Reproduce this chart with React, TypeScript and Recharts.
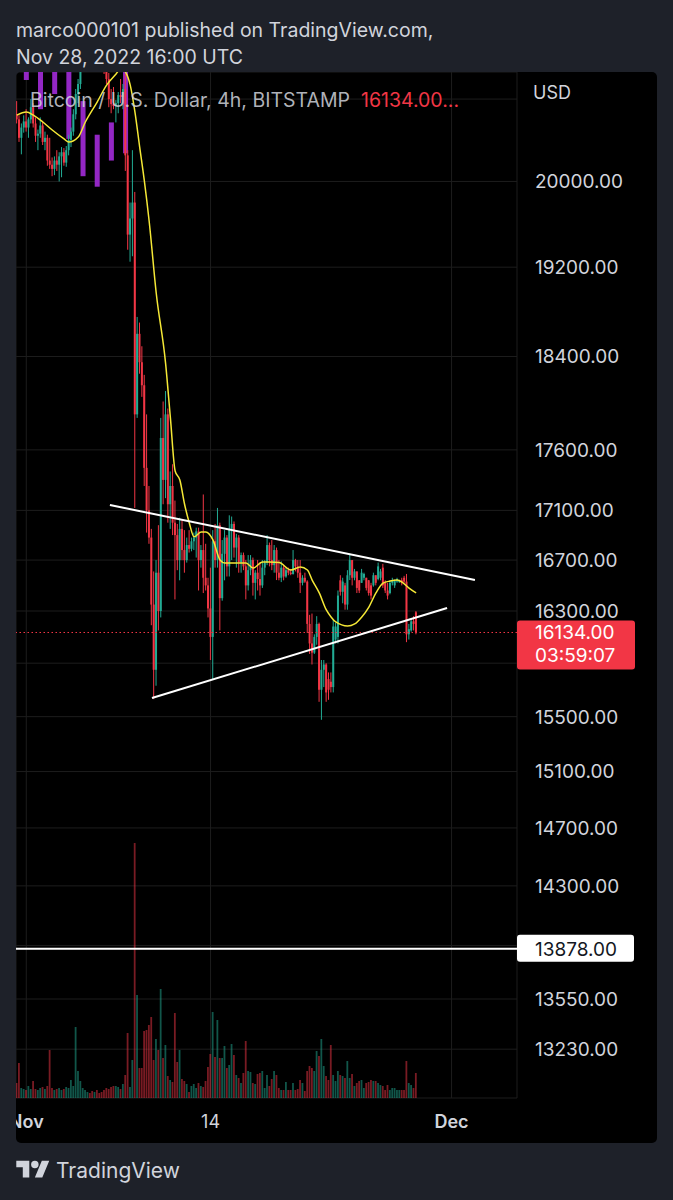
import React from 'react';
import {
  ComposedChart,
  Bar,
  Line,
  XAxis,
  YAxis,
  CartesianGrid,
  ReferenceLine,
  Cell
} from 'recharts';

// 4h candles, BTC/USD Bitstamp: [open, high, low, close]
const candles: number[][] = [
  [20650, 20780, 20560, 20600], [20600, 20640, 20380, 20420], [20420, 20560, 20260, 20520], [20520, 20640, 20470, 20580],
  [20580, 20700, 20480, 20520], [20520, 20620, 20420, 20600], [20600, 20800, 20560, 20720], [20720, 20760, 20520, 20560],
  [20560, 20620, 20380, 20440], [20440, 20500, 20300, 20460], [20460, 20620, 20420, 20540], [20540, 20580, 20350, 20380],
  [20380, 20480, 20300, 20420], [20420, 20450, 20150, 20200], [20200, 20420, 20120, 20160], [20160, 20230, 20050, 20120],
  [20120, 20240, 20060, 20200], [20200, 20300, 20100, 20160], [20160, 20280, 20000, 20240], [20240, 20330, 20040, 20280],
  [20280, 20320, 20150, 20180], [20180, 20340, 20140, 20300], [20300, 20450, 20250, 20400], [20400, 20520, 20330, 20480],
  [20480, 20700, 20440, 20650], [20650, 20900, 20600, 20850], [20850, 21000, 20760, 20950], [20950, 21200, 20900, 21150],
  [21150, 21300, 21080, 21250], [21250, 21400, 21180, 21300], [21300, 21450, 21250, 21380], [21380, 21420, 21260, 21300],
  [21300, 21380, 21220, 21280], [21280, 21350, 21200, 21300], [21300, 21360, 21220, 21260], [21260, 21320, 21150, 21200],
  [21200, 21260, 21100, 21150], [21150, 21200, 21050, 21120], [21120, 21180, 20950, 21000], [21000, 21060, 20720, 20800],
  [20800, 20900, 20660, 20750], [20750, 20920, 20700, 20730], [20730, 20790, 20570, 20760], [20760, 20870, 20660, 20840],
  [20840, 21000, 20760, 20820], [20820, 20950, 20700, 20900], [20900, 21050, 20100, 20250], [20250, 20300, 19360, 19500],
  [19500, 19800, 19250, 19650], [19650, 20300, 19300, 19800], [19800, 19900, 17120, 17900], [17900, 18750, 17870, 18600],
  [18600, 18700, 18250, 18350], [18350, 18490, 18050, 18150], [18150, 18240, 17300, 17450], [17450, 17900, 16920, 17100],
  [17100, 17300, 16830, 16880], [16880, 16950, 16190, 16350], [16350, 16610, 15630, 15850], [15850, 16700, 15730, 16600],
  [16600, 16980, 16150, 16300], [16300, 17870, 16250, 17700], [17700, 18010, 17150, 17350], [17350, 18100, 17200, 17900],
  [17900, 17950, 17000, 17150], [17150, 17420, 16950, 17300], [17300, 17480, 16900, 17000], [17000, 17180, 16390, 16900],
  [16900, 16990, 16620, 16700], [16700, 17040, 16540, 16950], [16950, 17020, 16700, 16780], [16780, 16940, 16600, 16700],
  [16700, 16880, 16680, 16820], [16820, 16940, 16760, 16790], [16790, 16880, 16770, 16850], [16850, 16920, 16780, 16880],
  [16880, 16960, 16720, 16930], [16930, 16960, 16460, 16700], [16700, 16820, 16640, 16780], [16780, 17230, 16440, 16560],
  [16560, 16830, 16460, 16500], [16500, 16560, 16250, 16320], [16320, 16640, 15924, 16100], [16100, 16940, 15774, 16850],
  [16850, 16990, 16640, 16700], [16700, 17120, 16640, 16980], [16980, 17000, 16150, 16400], [16400, 16860, 16380, 16750],
  [16750, 16940, 16540, 16880], [16880, 16900, 16570, 16650], [16650, 17060, 16570, 16950], [16950, 17050, 16700, 16990],
  [16990, 17010, 16720, 16800], [16800, 16910, 16640, 16880], [16880, 16900, 16600, 16680], [16680, 16760, 16600, 16740],
  [16740, 16760, 16620, 16650], [16650, 16700, 16390, 16500], [16500, 16740, 16460, 16620], [16620, 16740, 16580, 16700],
  [16700, 16720, 16420, 16520], [16520, 16620, 16390, 16600], [16600, 16700, 16460, 16550], [16550, 16680, 16420, 16500],
  [16500, 16700, 16480, 16640], [16640, 16700, 16580, 16680], [16680, 16900, 16660, 16820], [16820, 16840, 16650, 16700],
  [16700, 16860, 16620, 16660], [16660, 16820, 16600, 16780], [16780, 16800, 16542, 16600], [16600, 16700, 16540, 16560],
  [16560, 16690, 16526, 16640], [16640, 16660, 16540, 16570], [16570, 16640, 16560, 16620], [16620, 16640, 16580, 16600],
  [16600, 16630, 16580, 16590], [16590, 16780, 16585, 16700], [16700, 16710, 16610, 16650], [16650, 16700, 16560, 16600],
  [16600, 16700, 16440, 16520], [16520, 16580, 16500, 16560], [16560, 16600, 16520, 16530], [16530, 16540, 16130, 16200],
  [16200, 16270, 15970, 16050], [16050, 16280, 15890, 15980], [15980, 16120, 15970, 16100], [16100, 16260, 16040, 16200],
  [16200, 16210, 15610, 15700], [15700, 15924, 15477, 15850], [15850, 15924, 15720, 15890], [15890, 15900, 15610, 15680],
  [15780, 15830, 15625, 15700], [15760, 15830, 15680, 15720], [15720, 16230, 15680, 16180], [16080, 16210, 16050, 16180],
  [16100, 16460, 16050, 16420], [16540, 16580, 16420, 16450], [16450, 16560, 16360, 16530], [16500, 16520, 16310, 16350],
  [16350, 16620, 16310, 16580], [16580, 16750, 16542, 16700], [16700, 16700, 16500, 16560], [16560, 16630, 16540, 16610],
  [16610, 16610, 16440, 16480], [16540, 16542, 16440, 16460], [16520, 16630, 16520, 16600], [16560, 16600, 16540, 16590],
  [16560, 16560, 16460, 16480], [16540, 16542, 16420, 16440], [16500, 16520, 16390, 16420], [16500, 16600, 16490, 16580],
  [16580, 16580, 16500, 16520], [16550, 16680, 16540, 16650], [16560, 16630, 16540, 16610], [16640, 16670, 16480, 16500],
  [16520, 16540, 16440, 16460], [16460, 16520, 16390, 16420], [16440, 16540, 16430, 16520], [16520, 16560, 16500, 16540],
  [16500, 16545, 16480, 16535], [16530, 16560, 16520, 16550], [16525, 16545, 16520, 16540], [16540, 16560, 16500, 16520],
  [16560, 16575, 16520, 16530], [16530, 16590, 16060, 16120], [16120, 16200, 16080, 16160], [16150, 16230, 16140, 16220],
  [16220, 16260, 16150, 16200], [16290, 16300, 16120, 16134]
];

// volume per candle (relative units)
const volumes: number[] = [
  15, 35, 10, 9, 8, 12, 9, 17, 9, 8, 10, 11, 9, 12, 48, 10, 8, 9, 10, 8,
  9, 11, 10, 18, 12, 71, 27, 17, 10, 8, 6, 5, 7, 6, 8, 5, 6, 8, 10, 9,
  11, 12, 12, 11, 9, 14, 23, 65, 11, 38, 255, 103, 30, 30, 67, 68, 73, 81, 38, 59,
  48, 109, 40, 53, 22, 18, 16, 85, 36, 48, 19, 17, 14, 6, 12, 14, 10, 15, 12, 11,
  17, 31, 44, 86, 41, 78, 40, 40, 52, 30, 33, 54, 43, 23, 20, 15, 25, 57, 27, 26,
  15, 14, 24, 25, 27, 10, 23, 12, 19, 27, 23, 10, 8, 8, 16, 8, 8, 15, 8, 9,
  18, 15, 7, 27, 32, 30, 27, 47, 42, 59, 32, 22, 18, 53, 23, 17, 27, 23, 22, 20,
  37, 20, 24, 12, 15, 17, 18, 10, 15, 16, 18, 17, 17, 15, 13, 12, 8, 13, 8, 10,
  10, 8, 8, 8, 8, 37, 15, 13, 10, 25
];

// yellow moving average: [candle index, value]
const maPoints: number[][] = [
  [0, 20642], [4, 20672], [7, 20642], [11, 20574], [15, 20496], [20, 20409], [22, 20378], [26, 20427],
  [29, 20574], [34, 20771], [38, 20939], [42, 21049], [44, 21110], [46, 21070], [48, 20939], [50, 20672],
  [52, 20330], [54, 20000], [56, 19627], [59, 18965], [63, 18334], [65, 17870], [67, 17424], [69, 17349],
  [71, 17150], [73, 16998], [75, 16886], [78, 16925], [80, 16925], [83, 16861], [86, 16701], [88, 16677],
  [92, 16677], [97, 16677], [100, 16637], [104, 16685], [107, 16685], [111, 16680], [116, 16621], [120, 16645],
  [123, 16621], [125, 16542], [128, 16441], [131, 16308], [133, 16254], [135, 16215], [140, 16184], [143, 16200],
  [146, 16254], [149, 16331], [152, 16441], [155, 16518], [158, 16534], [161, 16542], [163, 16526], [166, 16479],
  [169, 16441]
];

// purple daily bars: [candle index, low, high]
const dailyBars: number[][] = [
  [4, 20990, 21300], [10, 20700, 21300], [16, 20850, 21300], [22, 20410, 21300],
  [28, 20050, 20780], [34, 19950, 20450], [40, 20200, 20570], [46, 20270, 21300]
];

const priceTicks = [20800, 20000, 19200, 18400, 17600, 17100, 16700, 16300, 15900, 15500, 15100, 14700, 14300, 13900, 13550, 13230];
const unlabeledTicks = [20800, 15900, 13900];
const timeTicks = [4, 82, 184];
const timeLabels = ['Nov', '14', 'Dec'];

const lastPrice = 16134;
const countdown = '03:59:07';
const levelPrice = 13878;
const upperTrend = [[39.4, 17144], [193.9, 16543]];
const lowerTrend = [[57.2, 15638], [182.1, 16323]];

const UP = '#22ab94';
const DOWN = '#f23645';
const TEXT = '#d1d4dc';
const FONT = 'Inter, "Noto Sans", sans-serif';

const maMap = new Map(maPoints.map(([i, v]) => [i, v]));
const dayMap = new Map(dailyBars.map(([i, lo, hi]) => [i, [lo, hi]]));

const rows = candles.map(([o, h, l, c], i) => ({
  i,
  o,
  h,
  l,
  c,
  v: volumes[i],
  ma: maMap.has(i) ? maMap.get(i) : null,
  day: dayMap.get(i) ?? null
}));

const Candle = (props: any) => {
  const { x, y, width, height, payload } = props;
  if (!payload || x == null || y == null) return null;
  const { o, h, l, c } = payload;
  const color = c >= o ? UP : DOWN;
  const top = Math.min(y, y + height);
  const bottom = Math.max(y, y + height);
  const span = Math.log(h) - Math.log(l);
  const yOf = (v: number) => (span > 0 ? top + ((bottom - top) * (Math.log(h) - Math.log(v))) / span : top);
  const cx = x + width / 2;
  const bTop = yOf(Math.max(o, c));
  const bBot = yOf(Math.min(o, c));
  return (
    <g>
      <line x1={cx} x2={cx} y1={top} y2={bottom} stroke={color} strokeWidth={1} />
      <rect x={cx - 1} y={bTop} width={2} height={Math.max(1, bBot - bTop)} fill={color} />
    </g>
  );
};

// wide purple block centred on its candle slot
const DayBlock = (props: any) => {
  const { x, y, width, height } = props;
  if (x == null || y == null || !height) return null;
  const cx = x + width / 2;
  return <rect x={cx - 2.5} y={Math.min(y, y + height)} width={5} height={Math.abs(height)} fill="#9327c4" />;
};

const PriceTick = (props: any) => {
  const { x, y, payload } = props;
  if (unlabeledTicks.includes(payload.value)) return <g />;
  return (
    <text x={x + 18} y={y} dy="0.36em" fill={TEXT} fontSize={19} fontFamily={FONT} textAnchor="start">
      {payload.value.toFixed(2)}
    </text>
  );
};

const TimeTick = (props: any) => {
  const { x, y, payload } = props;
  const idx = timeTicks.indexOf(payload.value);
  const label = timeLabels[idx] ?? '';
  const bold = label !== '14';
  return (
    <text x={x} y={y + 24} dy="0.36em" fill={TEXT} fontSize={18} fontFamily={FONT}
      fontWeight={bold ? 600 : 400} textAnchor="middle">
      {label}
    </text>
  );
};

const LastTag = (props: any) => {
  const vb = props.viewBox || {};
  const xr = vb.x + vb.width;
  const yc = vb.y;
  return (
    <g>
      <rect x={xr} y={yc - 12} width={118} height={49} rx={3} fill={DOWN} />
      <text x={xr + 18} y={yc} dy="0.36em" fill="#fff" fontSize={19} fontFamily={FONT}>{lastPrice.toFixed(2)}</text>
      <text x={xr + 18} y={yc + 23} dy="0.36em" fill="#fff" fontSize={19} fontFamily={FONT}>{countdown}</text>
    </g>
  );
};

const LevelTag = (props: any) => {
  const vb = props.viewBox || {};
  const xr = vb.x + vb.width;
  const yc = vb.y;
  return (
    <g>
      <rect x={xr} y={yc - 14} width={117} height={27} rx={3} fill="#ffffff" />
      <text x={xr + 18} y={yc} dy="0.36em" fill="#131722" fontSize={19} fontFamily={FONT}>{levelPrice.toFixed(2)}</text>
    </g>
  );
};

const Logo = () => (
  <svg width="34" height="26" viewBox="0 0 36 28" style={{ display: 'block' }}>
    <path d="M14 22H7V11H0V4h14v18zM28 22h-8l7.5-18h8L28 22z" fill={TEXT} />
    <circle cx="20" cy="8" r="4" fill={TEXT} />
  </svg>
);

const X_DOMAIN: [number, number] = [-0.35, 211.7];

export default function App() {
  return (
    <div style={{ position: 'absolute', left: 0, top: 0, width: 673, height: 1200, background: '#1e2129', fontFamily: FONT, overflow: 'hidden' }}>
      <div style={{ position: 'absolute', left: 16, top: 17, color: TEXT, fontSize: 19.5, lineHeight: '27px' }}>
        marco000101 published on TradingView.com,<br />
        Nov 28, 2022 16:00 UTC
      </div>

      <div style={{ position: 'absolute', left: 16, top: 72, width: 641, height: 1071, background: '#000', borderRadius: 5, overflow: 'hidden' }}>
        <ComposedChart width={641} height={1071} data={rows} margin={{ top: 0, right: 0, bottom: 0, left: 0 }}>
          <CartesianGrid stroke="#1d1d1d" />
          <XAxis dataKey="i" type="number" domain={X_DOMAIN} ticks={timeTicks} tick={<TimeTick />}
            axisLine={false} tickLine={false} tickSize={0} tickMargin={0} height={45} allowDataOverflow />
          <XAxis xAxisId="p" dataKey="i" type="number" domain={X_DOMAIN} hide />
          <XAxis xAxisId="v" dataKey="i" type="number" domain={X_DOMAIN} hide />
          <YAxis orientation="right" scale="log" domain={[12926, 21070]} allowDataOverflow ticks={priceTicks}
            width={140} tick={<PriceTick />} axisLine={false} tickLine={false} tickSize={0} tickMargin={0} />
          <YAxis yAxisId="vol" domain={[0, 1026]} hide />

          <Bar xAxisId="v" yAxisId="vol" dataKey="v" barSize={1.8} isAnimationActive={false}>
            {rows.map((r) => (
              <Cell key={`v-${r.i}`} fill={r.c >= r.o ? 'rgba(34,171,148,0.5)' : 'rgba(242,54,69,0.5)'} />
            ))}
          </Bar>
          <Bar xAxisId="p" dataKey={(d: any) => d.day} shape={<DayBlock />} isAnimationActive={false} />
          <Bar dataKey={(d: any) => [d.l, d.h]} barSize={2} shape={<Candle />} isAnimationActive={false} />
          <Line dataKey="ma" type="monotone" connectNulls dot={false} stroke="#f5e836" strokeWidth={1.5} isAnimationActive={false} />

          <ReferenceLine y={lastPrice} stroke={DOWN} strokeDasharray="1.5 2.5" label={<LastTag />} />
          <ReferenceLine y={levelPrice} stroke="#ffffff" strokeWidth={2} label={<LevelTag />} />
          <ReferenceLine segment={[{ x: upperTrend[0][0], y: upperTrend[0][1] }, { x: upperTrend[1][0], y: upperTrend[1][1] }]}
            stroke="#ffffff" strokeWidth={2} />
          <ReferenceLine segment={[{ x: lowerTrend[0][0], y: lowerTrend[0][1] }, { x: lowerTrend[1][0], y: lowerTrend[1][1] }]}
            stroke="#ffffff" strokeWidth={2} />
        </ComposedChart>

        <div style={{ position: 'absolute', left: 14, top: 17, fontSize: 19.5, lineHeight: '22px', color: 'rgba(209,212,220,0.85)', whiteSpace: 'nowrap' }}>
          Bitcoin / U.S. Dollar, 4h, BITSTAMP&nbsp;&nbsp;<span style={{ color: DOWN }}>{lastPrice.toFixed(2)}...</span>
        </div>
        <div style={{ position: 'absolute', left: 517, top: 10, fontSize: 18, lineHeight: '22px', color: TEXT }}>USD</div>
      </div>

      <div style={{ position: 'absolute', left: 16, top: 1157, display: 'flex', alignItems: 'center', gap: 6, color: TEXT, fontSize: 21 }}>
        <Logo />
        <span>TradingView</span>
      </div>
    </div>
  );
}
